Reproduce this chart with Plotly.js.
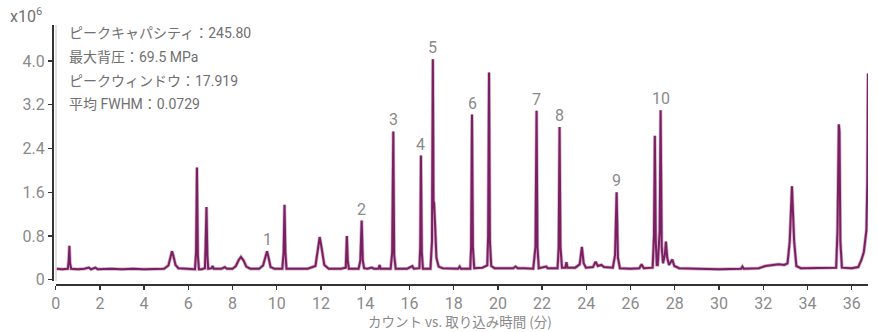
<!DOCTYPE html>
<html>
<head>
<meta charset="utf-8">
<script src="https://cdn.plot.ly/plotly-3.0.1.min.js"></script>
<style>html,body{margin:0;padding:0;background:#fff;}#chart{width:878px;height:332px;}</style>
</head>
<body>
<div id="chart"></div>
<script>
// Retention time (min)
const time = [
  0.05, 0.30, 0.55, 0.59, 0.62, 0.65, 0.70, 1.00, 1.30, 1.50, 1.60, 1.80, 1.90, 2.50, 3.00, 3.50, 4.00, 4.60, 4.90,
  5.10, 5.20, 5.26, 5.32, 5.42, 5.55, 6.00, 6.30, 6.35, 6.39, 6.43, 6.48, 6.60, 6.75, 6.78, 6.82, 6.86, 6.90,
  7.05, 7.10, 7.15, 7.50, 7.65, 7.75, 8.00, 8.15, 8.28, 8.38, 8.50, 8.62, 8.80, 9.20, 9.38, 9.48, 9.56, 9.63, 9.72, 9.90,
  10.25, 10.31, 10.35, 10.39, 10.44, 10.80, 11.40, 11.75, 11.88, 11.94, 12.02, 12.15, 12.35, 12.90, 13.12, 13.15, 13.17, 13.21, 13.26,
  13.70, 13.78, 13.84, 13.89, 13.95, 14.10, 14.30, 14.40, 14.60, 14.65, 14.70, 15.15, 15.22, 15.27, 15.31, 15.38, 15.90, 16.13, 16.20,
  16.45, 16.49, 16.52, 16.56, 16.61, 16.95, 17.02, 17.06, 17.09, 17.11, 17.16, 17.22, 17.32, 17.50, 18.20, 18.27, 18.33,
  18.75, 18.79, 18.83, 18.87, 18.93, 19.30, 19.52, 19.56, 19.60, 19.64, 19.70, 19.85, 20.70, 20.80, 20.90, 21.20,
  21.60, 21.70, 21.75, 21.79, 21.85, 22.19, 22.25, 22.70, 22.75, 22.79, 22.83, 22.90, 23.05, 23.10, 23.15, 23.50,
  23.70, 23.80, 23.88, 23.98, 24.30, 24.42, 24.52, 24.68, 24.80, 25.20, 25.30, 25.37, 25.43, 25.52, 26.00, 26.40, 26.50, 26.60,
  27.00, 27.06, 27.10, 27.14, 27.19, 27.23, 27.32, 27.36, 27.41, 27.47, 27.55, 27.60, 27.66, 27.74, 27.89, 27.98, 28.20,
  29.00, 30.00, 31.00, 31.06, 31.12, 31.80, 32.10, 32.40, 32.70, 32.95, 33.10, 33.20, 33.30, 33.40, 33.50, 33.70,
  34.50, 35.30, 35.36, 35.42, 35.45, 35.49, 35.56, 36.00, 36.30, 36.44, 36.55, 36.67, 36.71, 36.74
];
// Counts (x10^6)
const counts = [
  0.20, 0.19, 0.20, 0.35, 0.62, 0.30, 0.20, 0.19, 0.20, 0.22, 0.19, 0.22, 0.19, 0.20, 0.19, 0.20, 0.19, 0.20, 0.20,
  0.26, 0.42, 0.52, 0.44, 0.27, 0.21, 0.20, 0.19, 0.50, 2.05, 0.45, 0.19, 0.19, 0.21, 0.60, 1.33, 0.45, 0.20,
  0.21, 0.25, 0.20, 0.20, 0.23, 0.20, 0.20, 0.25, 0.36, 0.415, 0.35, 0.24, 0.20, 0.20, 0.26, 0.42, 0.52, 0.40, 0.23, 0.20,
  0.20, 0.50, 1.37, 0.50, 0.20, 0.20, 0.20, 0.25, 0.60, 0.78, 0.60, 0.27, 0.20, 0.20, 0.22, 0.50, 0.80, 0.35, 0.20,
  0.20, 0.35, 1.08, 0.35, 0.21, 0.20, 0.22, 0.20, 0.20, 0.27, 0.20, 0.20, 0.50, 2.71, 0.45, 0.20, 0.20, 0.25, 0.20,
  0.21, 0.60, 2.27, 0.50, 0.20, 0.20, 0.70, 4.03, 1.30, 1.43, 1.00, 0.40, 0.24, 0.21, 0.20, 0.24, 0.20,
  0.20, 0.60, 3.02, 0.60, 0.21, 0.22, 0.26, 0.80, 3.79, 0.70, 0.25, 0.21, 0.21, 0.24, 0.21, 0.21,
  0.20, 0.60, 3.09, 0.60, 0.21, 0.24, 0.21, 0.21, 0.60, 2.79, 0.60, 0.22, 0.22, 0.32, 0.22, 0.22,
  0.28, 0.60, 0.30, 0.22, 0.23, 0.33, 0.25, 0.27, 0.23, 0.22, 0.45, 1.60, 0.40, 0.21, 0.20, 0.21, 0.28, 0.21,
  0.22, 0.80, 2.63, 0.70, 0.27, 0.27, 0.90, 3.10, 0.60, 0.30, 0.45, 0.695, 0.40, 0.27, 0.37, 0.25, 0.21,
  0.20, 0.19, 0.20, 0.24, 0.20, 0.21, 0.25, 0.27, 0.28, 0.27, 0.30, 0.70, 1.71, 0.70, 0.25, 0.21,
  0.21, 0.22, 0.90, 2.84, 2.70, 0.70, 0.22, 0.21, 0.23, 0.36, 0.50, 0.91, 1.80, 3.77
];
// Numbered peak labels
const peakLabels = ['1','2','3','4','5','6','7','8','9','10'];
const peakTimes = [9.56, 13.84, 15.27, 16.52, 17.06, 18.83, 21.75, 22.79, 25.37, 27.36];
const peakHeights = [0.52, 1.08, 2.71, 2.27, 4.03, 3.02, 3.09, 2.79, 1.60, 3.10];
// Info box lines
const infoLines = ['ピークキャパシティ：245.80', '最大背圧：69.5 MPa', 'ピークウィンドウ：17.919', '平均 FWHM：0.0729'];
const xTicks = [0,2,4,6,8,10,12,14,16,18,20,22,24,26,28,30,32,34,36];
const yTicks = [0, 0.8, 1.6, 2.4, 3.2, 4.0];
const yTickText = ['0', '0.8', '1.6', '2.4', '3.2', '4.0'];

const FONT = 'Roboto, "Noto Sans CJK JP", sans-serif';
const lineColor = '#7B1F62';

const annotations = [];
peakLabels.forEach((lab, i) => {
  annotations.push({
    x: peakTimes[i], y: peakHeights[i], xref: 'x', yref: 'y',
    text: lab, showarrow: false, xanchor: 'center', yanchor: 'bottom', yshift: 0,
    font: {family: FONT, size: 16, color: '#8a8a8a'}
  });
});
const infoY = [0.969, 0.876, 0.784, 0.695];
infoLines.forEach((t, i) => {
  annotations.push({
    x: 0.0184, y: infoY[i], xref: 'paper', yref: 'paper',
    text: t, showarrow: false, xanchor: 'left', yanchor: 'middle',
    font: {family: FONT, size: 14, color: '#707070'}
  });
});
annotations.push({
  x: -0.054, y: 1.035, xref: 'paper', yref: 'paper',
  text: 'x10<sup>6</sup>', showarrow: false, xanchor: 'left', yanchor: 'middle',
  font: {family: FONT, size: 16, color: '#707070'}
});
// x-axis title drawn below the tick labels
annotations.push({
  x: 0.5, y: 0, xref: 'paper', yref: 'paper', yshift: -47.5, borderpad: 0,
  text: 'カウント vs. 取り込み時間 (分)', showarrow: false, xanchor: 'center', yanchor: 'bottom',
  font: {family: '"Noto Sans CJK JP", sans-serif', size: 13.5, color: '#8a8a8a'}
});

const data = [
  {x: time, y: counts, type: 'scatter', mode: 'lines', hoverinfo: 'skip',
   line: {color: 'rgba(123,31,98,0.35)', width: 3.5}},
  {x: time, y: counts, type: 'scatter', mode: 'lines',
   line: {color: lineColor, width: 2}}
];

const layout = {
  width: 878, height: 332,
  margin: {l: 52, r: 10, t: 25, b: 48, pad: 0},
  paper_bgcolor: '#fff', plot_bgcolor: '#fff',
  showlegend: false,
  font: {family: FONT},
  xaxis: {
    range: [0, 36.74], domain: [0.0045, 1], anchor: 'free', position: 0,
    tickvals: xTicks, ticks: 'outside', ticklen: 4, tickcolor: '#333', tickwidth: 1.3,
    showline: true, linecolor: '#333', linewidth: 1.5,
    showgrid: false, zeroline: true, zerolinecolor: '#e2e2e2', zerolinewidth: 2,
    tickfont: {family: FONT, size: 16, color: '#8a8a8a'}
  },
  yaxis: {
    range: [-0.024, 4.657], domain: [0.0116, 1], anchor: 'free', position: 0,
    tickvals: yTicks, ticktext: yTickText, ticks: 'outside', ticklen: 4, tickcolor: '#333', tickwidth: 1.3,
    showline: true, linecolor: '#333', linewidth: 1.5,
    showgrid: false, zeroline: false,
    tickfont: {family: FONT, size: 16, color: '#8a8a8a'}
  },
  annotations: annotations
};

Plotly.newPlot('chart', data, layout, {displayModeBar: false, staticPlot: true});
</script>
</body>
</html>
